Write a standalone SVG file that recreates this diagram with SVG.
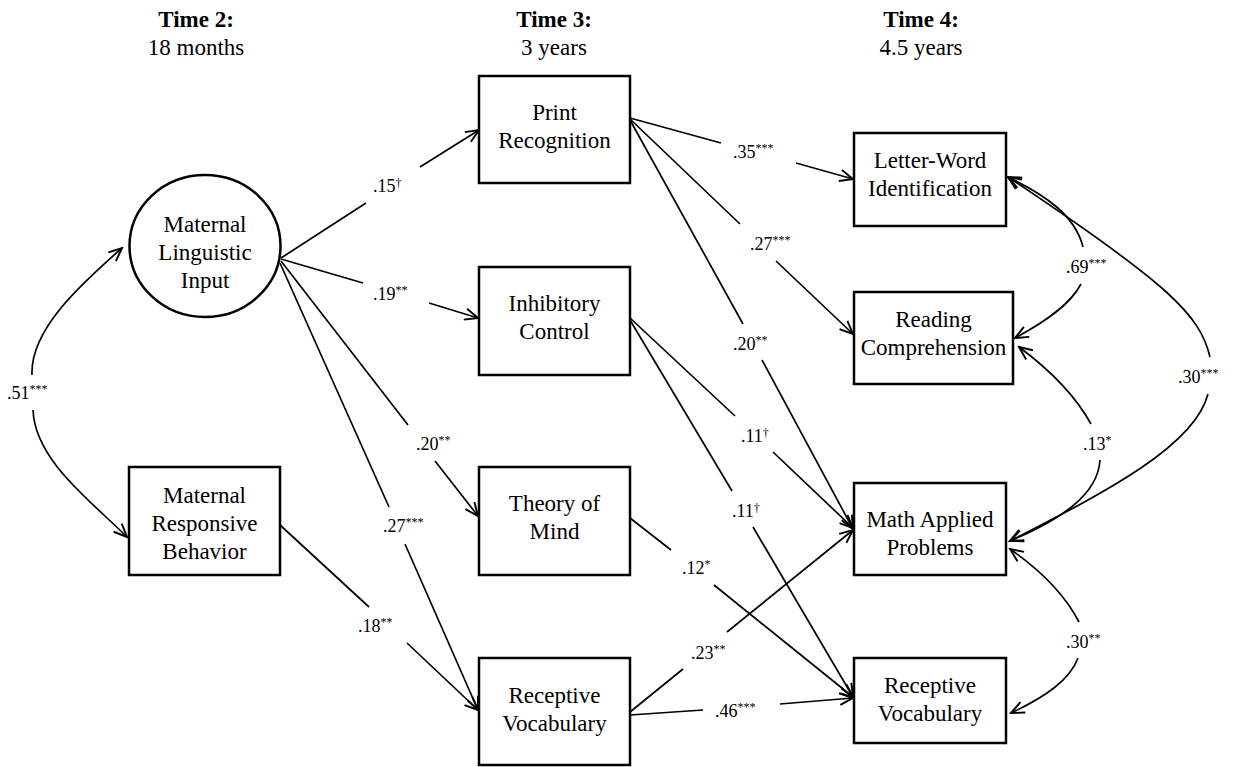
<svg xmlns="http://www.w3.org/2000/svg" width="1234" height="767" viewBox="0 0 1234 767">
<style>
text{font-family:"Liberation Serif","Times New Roman",serif;fill:#000}
.hd{font-size:23px;text-anchor:middle}
.b{font-weight:bold}
.nt{font-size:23px;text-anchor:middle}
.node{fill:#fff;stroke:#000;stroke-width:2.5}
.lbl{font-size:18px}
.sup{font-size:12px}
.ln{fill:none;stroke:#000;stroke-width:1.7}
.ar{marker-end:url(#arr)}
</style>
<defs>
<marker id="arr" markerUnits="userSpaceOnUse" markerWidth="16" markerHeight="16" viewBox="0 0 14 12" refX="12.5" refY="6" orient="auto">
<path d="M1,1 L12.5,6 L1,11" fill="none" stroke="#000" stroke-width="1.7"/>
</marker>
</defs>
<rect width="1234" height="767" fill="#fff"/>
<g id="headers">
<text class="hd b" x="196" y="27">Time 2:</text>
<text class="hd" x="196" y="55">18 months</text>
<text class="hd b" x="554" y="27">Time 3:</text>
<text class="hd" x="554" y="55">3 years</text>
<text class="hd b" x="921" y="27">Time 4:</text>
<text class="hd" x="921" y="55">4.5 years</text>
</g>
<g id="connectors">
<path class="ln" d="M281,258 L366,203"/><path class="ln ar" d="M420,167 L479,130"/>
<path class="ln" d="M281,259 L363,283"/><path class="ln ar" d="M429,303 L478,318"/>
<path class="ln" d="M281,261 L408,425"/><path class="ln ar" d="M435,461 L478,516"/>
<path class="ln" d="M280,263 L389,507"/><path class="ln ar" d="M405,544 L478,710"/>
<path class="ln" d="M280,525 L369,607"/><path class="ln ar" d="M407,643 L478,710"/>
<path class="ln" d="M630,118 L721,143"/><path class="ln ar" d="M796,163 L853,179"/>
<path class="ln" d="M630,119 L740,224"/><path class="ln ar" d="M776,261 L853,334"/>
<path class="ln" d="M630,120 L743,324"/><path class="ln ar" d="M762,360 L853,529"/>
<path class="ln" d="M630,318 L735,416"/><path class="ln ar" d="M773,452 L853,528"/>
<path class="ln" d="M630,320 L732,491"/><path class="ln ar" d="M753,527 L853,697"/>
<path class="ln" d="M630,518 L671,550"/><path class="ln ar" d="M714,585 L853,697"/>
<path class="ln" d="M630,712 L683,669"/><path class="ln ar" d="M727,632 L853,530"/>
<path class="ln" d="M630,715 L703,710"/><path class="ln ar" d="M780,704 L853,698"/>
<path class="ln ar" d="M32,375 C30,330 80,285 122,248"/>
<path class="ln ar" d="M33,410 C35,460 90,500 127,537"/>
<path class="ln ar" d="M1083,247 C1075,215 1045,195 1008,177"/>
<path class="ln ar" d="M1081,284 C1070,305 1045,322 1015,338"/>
<path class="ln ar" d="M1210,357 C1200,315 1170,285 1008,177"/>
<path class="ln ar" d="M1208,394 C1195,445 1110,490 1010,541"/>
<path class="ln ar" d="M1091,424 C1075,395 1050,370 1019,347"/>
<path class="ln ar" d="M1100,460 C1098,495 1060,520 1010,541"/>
<path class="ln ar" d="M1079,622 C1065,595 1040,570 1010,549"/>
<path class="ln ar" d="M1078,658 C1070,680 1045,697 1011,713"/>
</g>
<g id="labels">
<text class="lbl" x="7" y="399">.51<tspan class="sup" dy="-6">***</tspan></text>
<text class="lbl" x="373" y="192">.15<tspan class="sup" dy="-5">†</tspan></text>
<text class="lbl" x="373" y="300">.19<tspan class="sup" dy="-6">**</tspan></text>
<text class="lbl" x="416" y="450">.20<tspan class="sup" dy="-6">**</tspan></text>
<text class="lbl" x="383" y="532">.27<tspan class="sup" dy="-6">***</tspan></text>
<text class="lbl" x="358" y="632">.18<tspan class="sup" dy="-6">**</tspan></text>
<text class="lbl" x="733" y="158">.35<tspan class="sup" dy="-6">***</tspan></text>
<text class="lbl" x="750" y="250">.27<tspan class="sup" dy="-6">***</tspan></text>
<text class="lbl" x="733" y="350">.20<tspan class="sup" dy="-6">**</tspan></text>
<text class="lbl" x="741" y="442">.11<tspan class="sup" dy="-5">†</tspan></text>
<text class="lbl" x="732" y="517">.11<tspan class="sup" dy="-5">†</tspan></text>
<text class="lbl" x="682" y="574">.12<tspan class="sup" dy="-6">*</tspan></text>
<text class="lbl" x="691" y="659">.23<tspan class="sup" dy="-6">**</tspan></text>
<text class="lbl" x="715" y="717">.46<tspan class="sup" dy="-6">***</tspan></text>
<text class="lbl" x="1066" y="273">.69<tspan class="sup" dy="-6">***</tspan></text>
<text class="lbl" x="1178" y="383">.30<tspan class="sup" dy="-6">***</tspan></text>
<text class="lbl" x="1083" y="450">.13<tspan class="sup" dy="-6">*</tspan></text>
<text class="lbl" x="1066" y="648">.30<tspan class="sup" dy="-6">**</tspan></text>
</g>
<g id="n-mli">
<ellipse class="node" cx="205" cy="246" rx="75.5" ry="71"/>
<text class="nt" x="205" y="232">Maternal</text>
<text class="nt" x="205" y="260">Linguistic</text>
<text class="nt" x="205" y="288">Input</text>
</g>
<g id="n-mrb">
<rect class="node" x="129" y="467" width="151" height="108"/>
<text class="nt" x="204.5" y="503">Maternal</text>
<text class="nt" x="204.5" y="531">Responsive</text>
<text class="nt" x="204.5" y="559">Behavior</text>
</g>
<g id="n-pr">
<rect class="node" x="479" y="76" width="151" height="107"/>
<text class="nt" x="554.5" y="120">Print</text>
<text class="nt" x="554.5" y="148">Recognition</text>
</g>
<g id="n-ic">
<rect class="node" x="479" y="267" width="151" height="108"/>
<text class="nt" x="554.5" y="311">Inhibitory</text>
<text class="nt" x="554.5" y="339">Control</text>
</g>
<g id="n-tom">
<rect class="node" x="479" y="467" width="151" height="108"/>
<text class="nt" x="554.5" y="511">Theory of</text>
<text class="nt" x="554.5" y="539">Mind</text>
</g>
<g id="n-rv3">
<rect class="node" x="479" y="658" width="151" height="107"/>
<text class="nt" x="554.5" y="703">Receptive</text>
<text class="nt" x="554.5" y="731">Vocabulary</text>
</g>
<g id="n-lw">
<rect class="node" x="854" y="133" width="152" height="93"/>
<text class="nt" x="930" y="168">Letter-Word</text>
<text class="nt" x="930" y="196">Identification</text>
</g>
<g id="n-rc">
<rect class="node" x="854" y="292" width="159" height="92"/>
<text class="nt" x="933.5" y="327">Reading</text>
<text class="nt" x="933.5" y="355">Comprehension</text>
</g>
<g id="n-map">
<rect class="node" x="854" y="483" width="152" height="92"/>
<text class="nt" x="930" y="527">Math Applied</text>
<text class="nt" x="930" y="555">Problems</text>
</g>
<g id="n-rv4">
<rect class="node" x="854" y="658" width="152" height="85"/>
<text class="nt" x="930" y="693">Receptive</text>
<text class="nt" x="930" y="721">Vocabulary</text>
</g>
</svg>
